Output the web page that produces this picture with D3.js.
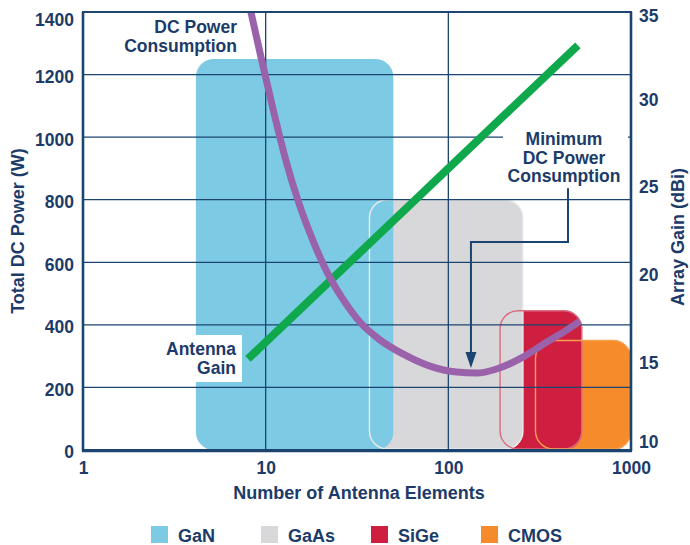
<!DOCTYPE html>
<html>
<head>
<meta charset="utf-8">
<script src="https://cdn.jsdelivr.net/npm/d3@7.9.0/dist/d3.min.js"></script>
<style>
  body { margin: 0; background: #fff; }
  svg { display: block; font-family: "Liberation Sans", Arial, sans-serif; font-weight: bold; }
  text { fill: #1c3b69; }
</style>
</head>
<body>
<svg id="chart" width="690" height="545"></svg>
<script>
// technology regions
const techNames = ['GaN', 'GaAs', 'SiGe', 'CMOS'];
const techFill = ['#7ccae3', '#d8d8da', '#cf1f40', '#f58b2a'];
const techEdge = ['#7ccae3', '#ececee', '#db6b80', '#f7a04e'];
const techMinElems = [4.15, 37, 192, 300];
const techMaxElems = [50, 256, 538, 1000];
const techMaxPower = [1250, 800, 445, 350];

// DC power consumption curve
const powerElems = [8.3, 9.5, 11, 12.8, 15, 17.9, 21.4, 26.2, 32.8, 42.2, 56.4, 79.3, 111, 143, 184, 256, 346, 446, 525];
const powerWatts = [1400, 1247, 1087, 933, 799, 678, 575, 486, 409, 352, 307, 268, 249, 246, 259, 297, 345, 384, 412];

// antenna gain line
const gainElems = [8, 512];
const gainDb = [15.2, 33.1];

// axes
const xTicks = [1, 10, 100, 1000];
const yTicks = [0, 200, 400, 600, 800, 1000, 1200, 1400];
const y2Ticks = [10, 15, 20, 25, 30, 35];

const navy = '#1b4470';
const margin = { top: 12, right: 59, bottom: 95, left: 83 };
const width = 690 - margin.left - margin.right;
const height = 545 - margin.top - margin.bottom;

const svg = d3.select('#chart');
const g = svg.append('g').attr('transform', `translate(${margin.left},${margin.top})`);

const x = d3.scaleLog().domain([1, 1000]).range([0, width]);
const y = d3.scaleLinear().domain([0, 1400]).range([height, 0]);
const y2 = d3.scaleLinear().domain([10, 35]).range([height, 0]);

// region fills, later ones sit behind earlier ones
const order = [3, 2, 1, 0];
g.selectAll('rect.fill')
  .data(order)
  .enter()
  .append('rect')
  .attr('class', 'fill')
  .attr('x', (i) => x(techMinElems[i]))
  .attr('y', (i) => y(techMaxPower[i]))
  .attr('width', (i) => x(techMaxElems[i]) - x(techMinElems[i]))
  .attr('height', (i) => y(0) - y(techMaxPower[i]))
  .attr('rx', 18)
  .attr('fill', (i) => techFill[i]);

// outlines of the hidden parts
g.selectAll('rect.edge')
  .data([1, 2, 3])
  .enter()
  .append('rect')
  .attr('class', 'edge')
  .attr('x', (i) => x(techMinElems[i]))
  .attr('y', (i) => y(techMaxPower[i]))
  .attr('width', (i) => x(techMaxElems[i]) - x(techMinElems[i]))
  .attr('height', (i) => y(0) - y(techMaxPower[i]) - 1)
  .attr('rx', 18)
  .attr('fill', 'none')
  .attr('stroke', (i) => techEdge[i])
  .attr('stroke-width', 1.4);

// grid
g.selectAll('line.hgrid')
  .data(yTicks.slice(1, -1))
  .enter()
  .append('line')
  .attr('x1', 0).attr('x2', width)
  .attr('y1', (d) => y(d)).attr('y2', (d) => y(d))
  .attr('stroke', navy).attr('stroke-width', 1.3);

g.selectAll('line.vgrid')
  .data(xTicks.slice(1, -1))
  .enter()
  .append('line')
  .attr('y1', 0).attr('y2', height)
  .attr('x1', (d) => x(d)).attr('x2', (d) => x(d))
  .attr('stroke', navy).attr('stroke-width', 1.3);

// label backgrounds
const gainLabel = g.append('g');
gainLabel.append('rect')
  .attr('x', 80).attr('y', 323).attr('width', 79).attr('height', 47)
  .attr('fill', '#fff');
gainLabel.append('text').attr('x', 153).attr('y', 343).attr('text-anchor', 'end')
  .style('font-size', '17.5px').text('Antenna');
gainLabel.append('text').attr('x', 153).attr('y', 361.5).attr('text-anchor', 'end')
  .style('font-size', '17.5px').text('Gain');

const minLabel = g.append('g');
minLabel.append('rect')
  .attr('x', 420).attr('y', 114).attr('width', 125).attr('height', 63)
  .attr('fill', '#fff');
['Minimum', 'DC Power', 'Consumption'].forEach((t, i) => {
  minLabel.append('text').attr('x', 481).attr('y', 133 + i * 18.5)
    .attr('text-anchor', 'middle').style('font-size', '17.5px').text(t);
});

const dcLabel = g.append('g');
['DC Power', 'Consumption'].forEach((t, i) => {
  dcLabel.append('text').attr('x', 154).attr('y', 21 + i * 19)
    .attr('text-anchor', 'end').style('font-size', '17.5px').text(t);
});

// curves
const gainLine = d3.line().x((d) => x(d[0])).y((d) => y2(d[1]));
g.append('path')
  .datum(d3.zip(gainElems, gainDb))
  .attr('d', gainLine)
  .attr('fill', 'none')
  .attr('stroke', '#10a84c')
  .attr('stroke-width', 8);

const powerLine = d3.line().x((d) => x(d[0])).y((d) => y(d[1])).curve(d3.curveMonotoneX);
g.append('path')
  .datum(d3.zip(powerElems, powerWatts))
  .attr('d', powerLine)
  .attr('fill', 'none')
  .attr('stroke', '#9a62aa')
  .attr('stroke-width', 7);

// minimum arrow
const arrowPts = [[452, 837], [452, 665], [133, 665], [133, 300]];
g.append('path')
  .datum(arrowPts)
  .attr('d', d3.line().x((d) => x(d[0])).y((d) => y(d[1])))
  .attr('fill', 'none')
  .attr('stroke', navy)
  .attr('stroke-width', 2);
const tipX = x(133), tipY = y(262);
g.append('path')
  .attr('d', `M${tipX},${tipY} L${tipX - 5.5},${tipY - 16} L${tipX + 5.5},${tipY - 16} Z`)
  .attr('fill', navy);

// frame
g.append('rect')
  .attr('x', 0).attr('y', 0).attr('width', width).attr('height', height)
  .attr('fill', 'none').attr('stroke', navy).attr('stroke-width', 2);
g.append('line').attr('x1', 0).attr('x2', 0).attr('y1', 0).attr('y2', height + 1)
  .attr('stroke', navy).attr('stroke-width', 2.6);
g.append('line').attr('x1', -1).attr('x2', width + 1).attr('y1', height + 1).attr('y2', height + 1)
  .attr('stroke', navy).attr('stroke-width', 2.6);
g.append('line').attr('x1', width).attr('x2', width).attr('y1', 0).attr('y2', height + 1)
  .attr('stroke', navy).attr('stroke-width', 2.6);

// axes
const xAxis = g.append('g')
  .attr('transform', `translate(0,${height})`)
  .call(d3.axisBottom(x).tickValues(xTicks).tickFormat(d3.format('d')).tickSize(0).tickPadding(12));
const yAxis = g.append('g')
  .call(d3.axisLeft(y).tickValues(yTicks).tickFormat(d3.format('d')).tickSize(0).tickPadding(9));
const y2Axis = g.append('g')
  .attr('transform', `translate(${width},0)`)
  .call(d3.axisRight(y2).tickValues(y2Ticks).tickSize(0).tickPadding(8));

[xAxis, yAxis, y2Axis].forEach((a) => {
  a.select('.domain').remove();
  a.selectAll('text')
    .style('font-size', '17.5px')
    .style('font-family', '"Liberation Sans", Arial, sans-serif')
    .attr('fill', '#1c3b69');
});
yAxis.selectAll('text').attr('dy', '0.45em');
yAxis.selectAll('text').filter((d) => d === 1400).attr('dy', '0.75em');
y2Axis.selectAll('text').filter((d) => d === 35).attr('dy', '0.55em');
y2Axis.selectAll('text').filter((d) => d === 10).attr('dy', '-0.15em');

// axis titles
svg.append('text')
  .attr('x', margin.left + width / 2 + 2).attr('y', 499)
  .attr('text-anchor', 'middle').style('font-size', '18px')
  .text('Number of Antenna Elements');
svg.append('text')
  .attr('transform', `translate(24,${margin.top + height / 2}) rotate(-90)`)
  .attr('text-anchor', 'middle').style('font-size', '18px')
  .text('Total DC Power (W)');
svg.append('text')
  .attr('transform', `translate(684,${margin.top + height / 2 + 6}) rotate(-90)`)
  .attr('text-anchor', 'middle').style('font-size', '18px')
  .text('Array Gain (dBi)');

// legend
const legend = svg.append('g').attr('transform', 'translate(151,526)');
techNames.forEach((name, i) => {
  const item = legend.append('g').attr('transform', `translate(${i * 110},0)`);
  item.append('rect').attr('width', 17).attr('height', 17).attr('fill', techFill[i]);
  item.append('text').attr('x', 27).attr('y', 16).style('font-size', '18px').text(name);
});
</script>
</body>
</html>
